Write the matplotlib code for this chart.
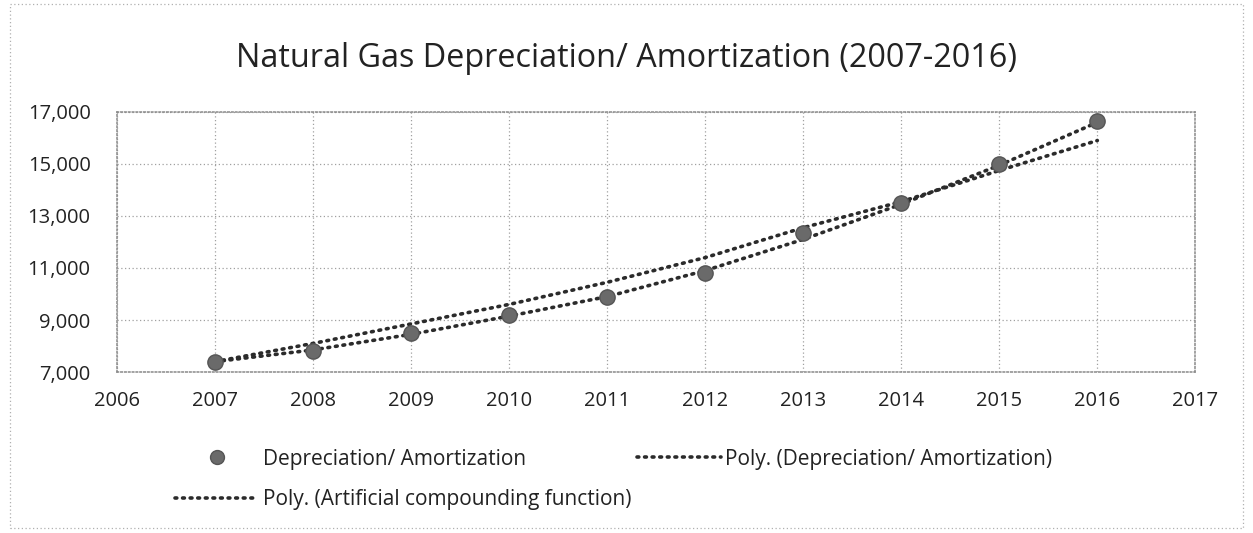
import matplotlib
matplotlib.use("Agg")
import matplotlib.pyplot as plt
from matplotlib.lines import Line2D
from matplotlib.patches import Rectangle
from matplotlib.ticker import FuncFormatter

# data
years = [2007, 2008, 2009, 2010, 2011, 2012, 2013, 2014, 2015, 2016]
depreciation = [7400, 7800, 8500, 9200, 9900, 10800, 12350, 13500, 15000, 16650]
poly_depreciation = [7400, 7850, 8450, 9150, 9900, 10900, 12100, 13450, 14950, 16600]
poly_artificial = [7400, 8100, 8850, 9600, 10450, 11400, 12550, 13550, 14750, 15900]

x_ticks = list(range(2006, 2018))
y_ticks = [7000, 9000, 11000, 13000, 15000, 17000]

plt.rcParams['font.family'] = ['Open Sans', 'DejaVu Sans']

fig = plt.figure(figsize=(12.53, 5.33), dpi=100)
ax = fig.add_axes([0.0934, 0.302, 0.8606, 0.488])

trend_style = dict(color='#2b2b2b', linestyle=(0, (0.5, 1.6)), linewidth=2.6,
                   dash_capstyle='round')
ax.plot(years, poly_artificial, **trend_style, zorder=3)
ax.plot(years, poly_depreciation, **trend_style, zorder=3)
ax.plot(years, depreciation, linestyle='none', marker='o', markersize=11,
        markerfacecolor='#6a6a6a', markeredgecolor='#555555', zorder=4)

ax.set_xlim(2006, 2017)
ax.set_ylim(7000, 17000)
ax.set_xticks(x_ticks)
ax.set_yticks(y_ticks)
ax.yaxis.set_major_formatter(FuncFormatter(lambda v, p: f'{int(v):,}'))
ax.grid(True, color='#a0a0a0', linestyle=(0, (1, 2)), linewidth=0.9)
ax.set_axisbelow(True)
for s in ax.spines.values():
    s.set_color('#8a8a8a')
    s.set_linestyle((0, (1, 1.5)))
    s.set_linewidth(1.1)
ax.tick_params(length=0, labelsize=14.5, colors='#222222')
ax.tick_params(axis='x', pad=14)
ax.tick_params(axis='y', pad=19)

fig.text(0.5, 0.874, 'Natural Gas Depreciation/ Amortization (2007-2016)',
         ha='center', va='baseline', fontsize=23.3, color='#222222')

h_dep = Line2D([], [], linestyle='none', marker='o', markersize=10,
               markerfacecolor='#6a6a6a', markeredgecolor='#555555')
h_poly = Line2D([], [], **trend_style)
# column order: first column = Dep + Artificial, second column = Poly Dep
leg = fig.legend([h_dep, h_poly, h_poly],
                 ['Depreciation/ Amortization', 'Poly. (Artificial compounding function)',
                  'Poly. (Depreciation/ Amortization)'],
                 ncol=2, loc='center left', bbox_to_anchor=(0.1397, 0.1005),
                 frameon=False, fontsize=15, handlelength=4.0, borderpad=0,
                 borderaxespad=0, columnspacing=0.3, handletextpad=0.2,
                 labelspacing=0.95)
for t in leg.get_texts():
    t.set_color('#222222')

fig.patches.append(Rectangle((0.008, 0.01), 0.984, 0.982, transform=fig.transFigure,
                             fill=False, edgecolor='#b0b0b0', linewidth=0.9,
                             linestyle=(0, (1, 2))))

fig.savefig('out.png', dpi=100)
